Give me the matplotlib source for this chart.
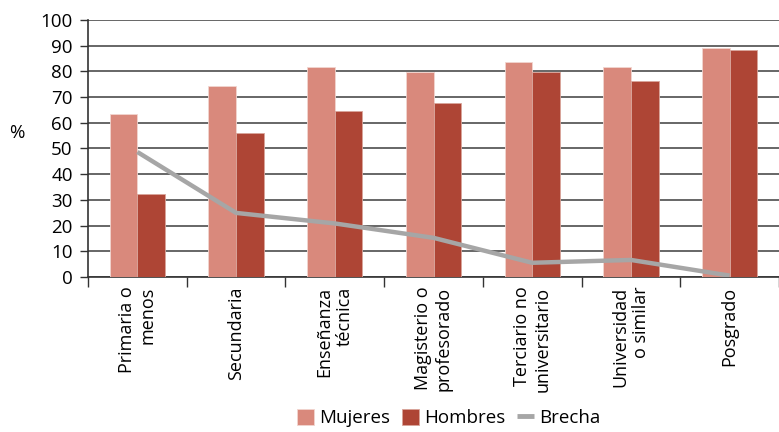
import numpy as np
import matplotlib
matplotlib.use('Agg')
import matplotlib.pyplot as plt
from matplotlib.ticker import FixedLocator

plt.rcParams['font.family'] = ['Open Sans', 'DejaVu Sans']

categorias = ['Primaria o\nmenos', 'Secundaria', 'Enseñanza\ntécnica',
              'Magisterio o\nprofesorado', 'Terciario no\nuniversitario',
              'Universidad\no similar', 'Posgrado']
mujeres = [63.4, 74.1, 81.6, 79.6, 83.7, 81.6, 89.1]
hombres = [32.2, 55.9, 64.5, 67.6, 79.6, 76.3, 88.2]
brecha = [48.6, 24.9, 20.8, 15.2, 5.5, 6.6, 0.5]

c_muj = '#D9897C'
c_hom = '#AE4535'
c_bre = '#A6A6A6'

fig = plt.figure(figsize=(7.79, 4.32), dpi=100)
ax = fig.add_axes([0.113, 0.359, 0.887, 0.595])

x = np.arange(len(categorias))
w = 0.28
b1 = ax.bar(x - w/2, mujeres, w, color=c_muj, edgecolor='#F2D5CF', linewidth=0.6, label='Mujeres', zorder=3)
b2 = ax.bar(x + w/2, hombres, w, color=c_hom, edgecolor='#D9A59B', linewidth=0.6, label='Hombres', zorder=3)
l1, = ax.plot(x, brecha, color=c_bre, linewidth=3.2, label='Brecha', zorder=4, solid_capstyle='butt')

ax.set_xlim(-0.5, len(categorias) - 0.5)
ax.set_ylim(0, 100)
ax.set_yticks(np.arange(0, 101, 10))
ax.yaxis.grid(True, color='#4d4d4d', linewidth=1.2, zorder=0)
ax.set_axisbelow(True)

ax.set_xticks(x)
ax.set_xticklabels(categorias, rotation=90, ha='center', va='top', multialignment='right', fontsize=13)
ax.tick_params(axis='x', which='major', length=0, pad=7)
ax.xaxis.set_minor_locator(FixedLocator(np.arange(-0.5, len(categorias), 1.0)))
ax.tick_params(axis='x', which='minor', length=7, width=1, color='#333333')
ax.tick_params(axis='y', length=6, width=1, labelsize=13.5, pad=5, color='#333333')

for s in ['top', 'right']:
    ax.spines[s].set_visible(False)
ax.spines['bottom'].set_color('#333333')
ax.spines['bottom'].set_linewidth(1.2)
ax.spines['left'].set_color('#333333')
ax.spines['left'].set_linewidth(1.2)

fig.text(0.022, 0.692, '%', fontsize=13.5, ha='center', va='center')

leg = fig.legend([b1, b2, l1], ['Mujeres', 'Hombres', 'Brecha'],
                 loc='lower center', bbox_to_anchor=(0.576, -0.028), ncol=3, frameon=False,
                 fontsize=13.5, handlelength=0.9, handleheight=0.9, handletextpad=0.3,
                 columnspacing=0.6)
leg.legend_handles[2].set_linewidth(3.5)

fig.savefig('out.png', dpi=100)
